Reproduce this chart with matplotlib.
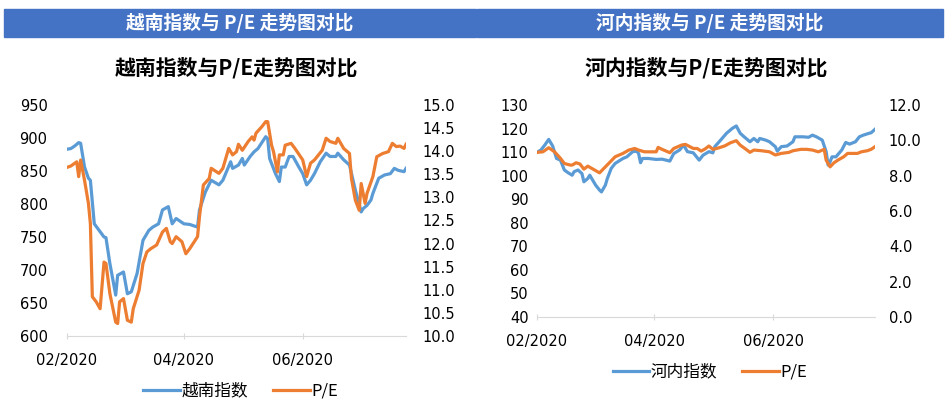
import numpy as np
import matplotlib
matplotlib.use("Agg")
import matplotlib.pyplot as plt
import matplotlib.dates as mdates
from matplotlib.patches import Rectangle

plt.rcParams['font.family'] = ['DejaVu Sans', 'Noto Sans CJK SC']
CJK = ['Noto Sans CJK SC', 'DejaVu Sans']

START = np.datetime64('2020-02-03')

# ---------------- Left chart: VN-Index vs P/E (days since 2020-02-03) -------------
vn_idx_days = [0, 2, 4, 6, 7, 9, 11, 12, 14, 17, 19, 20, 22, 25, 26, 29, 31, 33, 36, 39,
               42, 44, 47, 49, 52, 54, 56, 60, 63, 67, 68, 71, 74, 78, 80, 84, 85, 88, 90, 91,
               94, 96, 98, 102, 103, 104, 107, 109, 110, 112, 114, 116, 119, 121, 123, 125, 127,
               130, 133, 135, 138, 139, 142, 145, 148, 151, 152, 154, 156, 157, 160, 163, 166,
               168, 170, 173, 174]
vn_idx_vals = [883, 884, 888, 893, 892, 856, 839, 836, 770, 758, 750, 749, 710, 662, 692, 697,
               664, 667, 695, 745, 760, 765, 770, 791, 796, 770, 778, 770, 769, 765, 791, 818,
               836, 829, 836, 864, 854, 859, 869, 859, 872, 879, 884, 902, 899, 869, 846, 834,
               856, 856, 872, 872, 856, 846, 829, 836, 846, 864, 877, 872, 872, 877, 867, 859,
               821, 788, 793, 798, 806, 816, 839, 844, 846, 854, 851, 849, 854]

vn_pe_days = [0, 2, 5, 6, 7, 9, 11, 12, 13, 15, 17, 19, 20, 22, 25, 26, 27, 29, 31, 33, 34,
              37, 39, 41, 43, 46, 49, 51, 53, 54, 56, 59, 61, 63, 67, 68, 70, 73, 74, 78, 80,
              83, 85, 87, 88, 90, 93, 95, 96, 97, 100, 102, 103, 105, 106, 108, 109, 111, 112,
              115, 117, 121, 123, 125, 127, 131, 133, 135, 138, 139, 142, 145, 146, 148, 150,
              151, 153, 154, 157, 159, 162, 165, 167, 169, 171, 173, 174]
vn_pe_vals = [13.65, 13.68, 13.77, 13.45, 13.81, 13.37, 12.87, 12.43, 10.85, 10.74, 10.59,
              11.60, 11.57, 10.92, 10.30, 10.27, 10.74, 10.81, 10.34, 10.30, 10.59, 10.99,
              11.57, 11.82, 11.89, 11.97, 12.25, 12.33, 12.04, 12.00, 12.15, 12.04, 11.78,
              11.89, 12.15, 12.58, 13.27, 13.41, 13.63, 13.52, 13.63, 14.06, 13.92, 13.99,
              14.15, 14.02, 14.21, 14.31, 14.24, 14.39, 14.53, 14.64, 14.64, 14.13, 13.99,
              13.55, 13.92, 13.92, 14.13, 14.17, 14.06, 13.81, 13.45, 13.74, 13.81, 14.02,
              14.28, 14.21, 14.17, 14.28, 14.06, 13.95, 13.41, 12.94, 12.72, 13.30, 12.87,
              13.09, 13.45, 13.88, 13.95, 13.99, 14.17, 14.10, 14.11, 14.06, 14.15]

# ---------------- Right chart: HNX-Index vs P/E (days since 2020-02-03) ------------
hn_idx_days = [0, 2, 4, 6, 8, 10, 12, 14, 16, 18, 19, 21, 23, 24, 26, 27, 29, 30, 32, 33, 35,
               36, 38, 40, 44, 46, 49, 51, 52, 53, 54, 57, 61, 64, 68, 70, 73, 75, 77, 80, 83,
               85, 88, 90, 91, 94, 97, 100, 102, 104, 106, 108, 109, 111, 113, 114, 117, 119,
               122, 123, 125, 128, 131, 132, 136, 139, 141, 143, 146, 148, 149, 150, 151, 153,
               156, 158, 160, 163, 165, 167, 170, 171, 173]
hn_idx_vals = [109.9, 110.9, 113.0, 115.4, 112.6, 107.3, 106.6, 102.4, 101.2, 100.2, 101.7,
               102.4, 100.9, 97.4, 98.8, 100.2, 97.4, 96.0, 93.9, 93.1, 96.0, 98.8, 103.1,
               105.2, 107.3, 108.0, 110.2, 110.4, 109.4, 105.5, 107.3, 107.3, 106.9, 107.0,
               106.2, 109.4, 110.9, 113.0, 110.2, 109.7, 106.6, 108.7, 110.2, 109.7, 112.3,
               115.1, 118.0, 120.1, 121.1, 118.0, 116.5, 115.1, 114.4, 115.8, 114.4, 115.8,
               115.1, 114.4, 112.3, 110.4, 112.3, 112.6, 114.4, 116.5, 116.5, 116.3, 117.2,
               116.5, 115.1, 110.2, 104.5, 105.9, 108.0, 108.0, 110.9, 114.1, 113.4, 114.4,
               116.5, 117.2, 118.0, 118.2, 119.7]

hn_pe_days = [0, 3, 6, 9, 12, 14, 17, 18, 20, 22, 24, 26, 29, 32, 35, 38, 40, 44, 47, 50, 52,
              55, 58, 61, 62, 64, 68, 70, 74, 76, 80, 82, 84, 86, 88, 90, 92, 96, 99, 102, 104,
              107, 109, 111, 115, 119, 122, 125, 129, 131, 135, 138, 141, 144, 147, 148, 150,
              152, 154, 157, 159, 164, 166, 169, 171, 173]
hn_pe_vals = [9.32, 9.35, 9.58, 9.35, 8.98, 8.69, 8.60, 8.60, 8.73, 8.66, 8.37, 8.54, 8.35,
              8.16, 8.50, 8.84, 9.07, 9.26, 9.45, 9.54, 9.45, 9.35, 9.35, 9.35, 9.60, 9.49,
              9.30, 9.54, 9.73, 9.77, 9.54, 9.54, 9.39, 9.51, 9.68, 9.49, 9.54, 9.68, 9.86,
              9.98, 9.73, 9.49, 9.32, 9.45, 9.41, 9.35, 9.17, 9.26, 9.32, 9.41, 9.49, 9.49,
              9.45, 9.35, 9.49, 8.88, 8.50, 8.73, 8.88, 9.07, 9.26, 9.26, 9.35, 9.41, 9.49, 9.64]

# ---------------- Texts --------------------------------------------------------
banner_titles = ['越南指数与 P/E 走势图对比', '河内指数与 P/E 走势图对比']
chart_titles = ['越南指数与P/E走势图对比', '河内指数与P/E走势图对比']
idx_names = ['越南指数', '河内指数']
pe_name = 'P/E'
x_tick_dates = ['2020-02-03', '2020-04-03', '2020-06-03']

BLUE = '#5B9BD5'
ORANGE = '#ED7D31'
BANNER = '#4472C4'

W, H = 952, 401
fig = plt.figure(figsize=(W / 100, H / 100), dpi=100)


def fx(px):
    return px / W


def fy(py):
    return 1 - py / H


def to_dates(days):
    return START + np.array(days).astype('timedelta64[D]')


# banners
for (x0, x1), txt in zip([(4, 476), (477, 943)], banner_titles):
    fig.patches.append(Rectangle((fx(x0), fy(37)), fx(x1 - x0), (37 - 9) / H,
                                 transform=fig.transFigure, color=BANNER, zorder=0))
    fig.text(fx((x0 + x1) / 2), fy(23), txt, ha='center', va='center', color='white',
             fontsize=13.5, fontweight='bold', family=CJK)

configs = [
    dict(rect=(67, 406, 105, 336), idx=(vn_idx_days, vn_idx_vals), pe=(vn_pe_days, vn_pe_vals),
         ylim=(600, 950), ystep=50, y2lim=(10, 15), y2step=0.5, xmax=174, lpad=14, rpad=12,
         legend_y=391),
    dict(rect=(537, 875, 105, 317), idx=(hn_idx_days, hn_idx_vals), pe=(hn_pe_days, hn_pe_vals),
         ylim=(40, 130), ystep=10, y2lim=(0, 12), y2step=2, xmax=173, lpad=6, rpad=10,
         legend_y=372),
]

for i, c in enumerate(configs):
    x0, x1, y0, y1 = c['rect']
    ax = fig.add_axes([fx(x0), fy(y1), fx(x1 - x0), (y1 - y0) / H])
    ax2 = ax.twinx()
    l1, = ax.plot(to_dates(c['idx'][0]), c['idx'][1], color=BLUE, lw=2.3,
                  solid_joinstyle='round', label=idx_names[i])
    l2, = ax2.plot(to_dates(c['pe'][0]), c['pe'][1], color=ORANGE, lw=2.3,
                   solid_joinstyle='round', label=pe_name)
    ax.set_xlim(START, START + np.timedelta64(c['xmax'], 'D'))
    ax.set_ylim(*c['ylim'])
    ax.set_yticks(np.arange(c['ylim'][0], c['ylim'][1] + 0.01, c['ystep']))
    ax2.set_ylim(*c['y2lim'])
    ax2.set_yticks(np.arange(c['y2lim'][0], c['y2lim'][1] + 0.001, c['y2step']))
    ax2.yaxis.set_major_formatter(matplotlib.ticker.FormatStrFormatter('%.1f'))
    ax.set_xticks([np.datetime64(d) for d in x_tick_dates])
    ax.xaxis.set_major_formatter(mdates.DateFormatter('%m/%Y'))
    for a in (ax, ax2):
        for s in a.spines.values():
            s.set_visible(False)
    ax.spines['bottom'].set_visible(True)
    ax.spines['bottom'].set_color('#D9D9D9')
    ax.tick_params(axis='x', length=5, color='#D9D9D9', labelsize=10.5, pad=10,
                   direction='inout')
    ax.tick_params(axis='y', length=0, labelsize=10.5, pad=c['lpad'])
    ax2.tick_params(axis='y', length=0, labelsize=10.5, pad=c['rpad'])
    ax.patch.set_visible(False)
    fig.text(fx((x0 + x1) / 2), fy(68), chart_titles[i], ha='center', va='center',
             fontsize=15, fontweight='bold', family=CJK)
    fig.legend(handles=[l1, l2], loc='center', bbox_to_anchor=(fx((x0 + x1) / 2 + 4), fy(c['legend_y'])),
               ncol=2, frameon=False, prop={'family': CJK, 'size': 12},
               handlelength=2.2, handletextpad=0.1, columnspacing=1.5)

fig.savefig('out.png', dpi=100)
